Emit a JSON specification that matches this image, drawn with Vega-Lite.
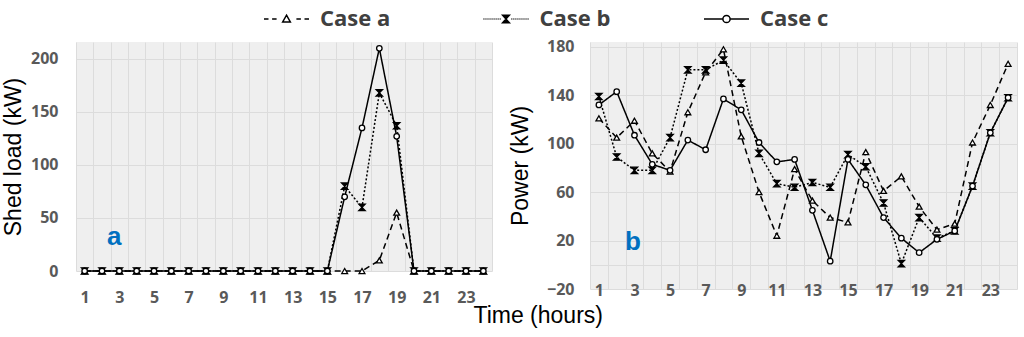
{
  "$schema": "https://vega.github.io/schema/vega-lite/v6.json",
  "background": "white",
  "padding": {"left": 2, "top": 3, "right": 5, "bottom": 5},
  "datasets": {
    "shed": [
      {"h":1,"c":"Case a","v":0},{"h":2,"c":"Case a","v":0},{"h":3,"c":"Case a","v":0},{"h":4,"c":"Case a","v":0},{"h":5,"c":"Case a","v":0},{"h":6,"c":"Case a","v":0},{"h":7,"c":"Case a","v":0},{"h":8,"c":"Case a","v":0},{"h":9,"c":"Case a","v":0},{"h":10,"c":"Case a","v":0},{"h":11,"c":"Case a","v":0},{"h":12,"c":"Case a","v":0},{"h":13,"c":"Case a","v":0},{"h":14,"c":"Case a","v":0},{"h":15,"c":"Case a","v":0},{"h":16,"c":"Case a","v":0},{"h":17,"c":"Case a","v":0},{"h":18,"c":"Case a","v":10},{"h":19,"c":"Case a","v":55},{"h":20,"c":"Case a","v":0},{"h":21,"c":"Case a","v":0},{"h":22,"c":"Case a","v":0},{"h":23,"c":"Case a","v":0},{"h":24,"c":"Case a","v":0},
      {"h":1,"c":"Case b","v":0},{"h":2,"c":"Case b","v":0},{"h":3,"c":"Case b","v":0},{"h":4,"c":"Case b","v":0},{"h":5,"c":"Case b","v":0},{"h":6,"c":"Case b","v":0},{"h":7,"c":"Case b","v":0},{"h":8,"c":"Case b","v":0},{"h":9,"c":"Case b","v":0},{"h":10,"c":"Case b","v":0},{"h":11,"c":"Case b","v":0},{"h":12,"c":"Case b","v":0},{"h":13,"c":"Case b","v":0},{"h":14,"c":"Case b","v":0},{"h":15,"c":"Case b","v":0},{"h":16,"c":"Case b","v":80},{"h":17,"c":"Case b","v":60},{"h":18,"c":"Case b","v":168},{"h":19,"c":"Case b","v":137},{"h":20,"c":"Case b","v":0},{"h":21,"c":"Case b","v":0},{"h":22,"c":"Case b","v":0},{"h":23,"c":"Case b","v":0},{"h":24,"c":"Case b","v":0},
      {"h":1,"c":"Case c","v":0},{"h":2,"c":"Case c","v":0},{"h":3,"c":"Case c","v":0},{"h":4,"c":"Case c","v":0},{"h":5,"c":"Case c","v":0},{"h":6,"c":"Case c","v":0},{"h":7,"c":"Case c","v":0},{"h":8,"c":"Case c","v":0},{"h":9,"c":"Case c","v":0},{"h":10,"c":"Case c","v":0},{"h":11,"c":"Case c","v":0},{"h":12,"c":"Case c","v":0},{"h":13,"c":"Case c","v":0},{"h":14,"c":"Case c","v":0},{"h":15,"c":"Case c","v":0},{"h":16,"c":"Case c","v":70},{"h":17,"c":"Case c","v":135},{"h":18,"c":"Case c","v":210},{"h":19,"c":"Case c","v":127},{"h":20,"c":"Case c","v":0},{"h":21,"c":"Case c","v":0},{"h":22,"c":"Case c","v":0},{"h":23,"c":"Case c","v":0},{"h":24,"c":"Case c","v":0}
    ],
    "power": [
      {"h":1,"c":"Case a","v":121},{"h":2,"c":"Case a","v":105},{"h":3,"c":"Case a","v":119},{"h":4,"c":"Case a","v":92},{"h":5,"c":"Case a","v":77},{"h":6,"c":"Case a","v":126},{"h":7,"c":"Case a","v":159},{"h":8,"c":"Case a","v":178},{"h":9,"c":"Case a","v":106},{"h":10,"c":"Case a","v":60},{"h":11,"c":"Case a","v":24},{"h":12,"c":"Case a","v":79},{"h":13,"c":"Case a","v":53},{"h":14,"c":"Case a","v":39},{"h":15,"c":"Case a","v":35},{"h":16,"c":"Case a","v":93},{"h":17,"c":"Case a","v":61},{"h":18,"c":"Case a","v":73},{"h":19,"c":"Case a","v":48},{"h":20,"c":"Case a","v":29},{"h":21,"c":"Case a","v":34},{"h":22,"c":"Case a","v":101},{"h":23,"c":"Case a","v":132},{"h":24,"c":"Case a","v":166},
      {"h":1,"c":"Case b","v":139},{"h":2,"c":"Case b","v":89},{"h":3,"c":"Case b","v":78},{"h":4,"c":"Case b","v":78},{"h":5,"c":"Case b","v":105},{"h":6,"c":"Case b","v":161},{"h":7,"c":"Case b","v":161},{"h":8,"c":"Case b","v":169},{"h":9,"c":"Case b","v":150},{"h":10,"c":"Case b","v":92},{"h":11,"c":"Case b","v":67},{"h":12,"c":"Case b","v":64},{"h":13,"c":"Case b","v":68},{"h":14,"c":"Case b","v":64},{"h":15,"c":"Case b","v":91},{"h":16,"c":"Case b","v":81},{"h":17,"c":"Case b","v":51},{"h":18,"c":"Case b","v":1},{"h":19,"c":"Case b","v":39},{"h":20,"c":"Case b","v":22},{"h":21,"c":"Case b","v":28},{"h":22,"c":"Case b","v":65},{"h":23,"c":"Case b","v":109},{"h":24,"c":"Case b","v":138},
      {"h":1,"c":"Case c","v":132},{"h":2,"c":"Case c","v":143},{"h":3,"c":"Case c","v":107},{"h":4,"c":"Case c","v":83},{"h":5,"c":"Case c","v":78},{"h":6,"c":"Case c","v":103},{"h":7,"c":"Case c","v":95},{"h":8,"c":"Case c","v":137},{"h":9,"c":"Case c","v":128},{"h":10,"c":"Case c","v":101},{"h":11,"c":"Case c","v":85},{"h":12,"c":"Case c","v":87},{"h":13,"c":"Case c","v":45},{"h":14,"c":"Case c","v":3},{"h":15,"c":"Case c","v":87},{"h":16,"c":"Case c","v":66},{"h":17,"c":"Case c","v":39},{"h":18,"c":"Case c","v":22},{"h":19,"c":"Case c","v":10},{"h":20,"c":"Case c","v":21},{"h":21,"c":"Case c","v":28},{"h":22,"c":"Case c","v":65},{"h":23,"c":"Case c","v":109},{"h":24,"c":"Case c","v":138}
    ],
    "labA": [{"h":2.7,"v":32.5,"t":"a"}],
    "labB": [{"h":2.91,"v":18.6,"t":"b"}]
  },
  "title": {"text": "Time (hours)", "orient": "bottom", "anchor": "middle", "font": "Liberation Sans", "fontSize": 23, "fontWeight": "normal", "color": "black", "offset": 0, "dx": 24},
  "spacing": 8,
  "hconcat": [
    {
      "width": 416,
      "height": 229,
      "encoding": {
        "x": {"field": "h", "type": "quantitative", "scale": {"domain": [0.5, 24.5], "nice": false, "zero": false},
              "axis": {"orient": "bottom", "values": [0.5,1.5,2.5,3.5,4.5,5.5,6.5,7.5,8.5,9.5,10.5,11.5,12.5,13.5,14.5,15.5,16.5,17.5,18.5,19.5,20.5,21.5,22.5,23.5,24.5], "labelExpr": "(datum.value < 24 && (datum.value + 0.5) % 2 == 1) ? format(datum.value + 0.5, 'd') : ''", "labelOffset": 8.66, "title": null, "labelBaseline": "middle", "labelPadding": 26, "grid": true, "labelFlush": false, "labelOverlap": false, "labelBound": false}},
        "y": {"field": "v", "type": "quantitative", "scale": {"domain": [0, 216], "nice": false},
              "axis": {"values": [0,50,100,150,200], "title": "Shed load (kW)", "labelPadding": 18, "titlePadding": 5, "grid": true, "labelOverlap": false}}
      },
      "layer": [
        {
          "data": {"name": "shed"},
          "mark": {"type": "line", "strokeWidth": 1.5, "color": "black"},
          "encoding": {
            "strokeDash": {"field": "c", "type": "nominal", "scale": {"range": [[6,4],[2,2],[1,0]]}, "legend": null}
          }
        },
        {
          "data": {"name": "shed"},
          "transform": [{"filter": "datum.c === 'Case a'"}],
          "mark": {"type": "point", "shape": "triangle-up", "filled": true, "fill": "white", "stroke": "black", "strokeWidth": 1.3, "opacity": 1, "size": 34}
        },
        {
          "data": {"name": "shed"},
          "transform": [{"filter": "datum.c === 'Case b'"}],
          "mark": {"type": "point", "shape": "M-1,-1H1L-1,1H1Z", "filled": true, "fill": "black", "stroke": "black", "strokeWidth": 1.3, "opacity": 1, "size": 40}
        },
        {
          "data": {"name": "shed"},
          "transform": [{"filter": "datum.c === 'Case c'"}],
          "mark": {"type": "point", "shape": "circle", "filled": true, "fill": "white", "stroke": "black", "strokeWidth": 1.3, "opacity": 1, "size": 30}
        },
        {
          "data": {"name": "shed"},
          "mark": {"type": "point", "filled": false, "color": "black", "opacity": 0},
          "encoding": {
            "shape": {"field": "c", "type": "nominal",
              "scale": {"domain": ["Case a", "Case b", "Case c"], "range": [
                "M-1.5,0H-1.2M-0.96,0H-0.66M0.66,0H0.96M1.2,0H1.5M0,-0.255L0.255,0.195L-0.255,0.195Z",
                "M-1.5,0h0.06M-1.365,0h0.06M-1.23,0h0.06M-1.095,0h0.06M-0.96,0h0.06M-0.825,0h0.06M-0.69,0h0.06M-0.555,0h0.06M-0.42,0h0.06M0.36,0h0.06M0.495,0h0.06M0.63,0h0.06M0.765,0h0.06M0.9,0h0.06M1.035,0h0.06M1.17,0h0.06M1.305,0h0.06M1.44,0h0.06M-0.225,-0.255H0.225L-0.225,0.255H0.225ZM-0.15,-0.165H0.15M-0.075,-0.075H0.075M-0.15,0.165H0.15M-0.075,0.075H0.075",
                "M-1.5,0H-0.24M0.24,0H1.5M0.24,0A0.24,0.24 0 1,1 -0.24,0A0.24,0.24 0 1,1 0.24,0Z"
              ]},
              "legend": {"title": null, "orient": "none", "legendX": 194.5, "legendY": -39, "direction": "horizontal"}
            }
          }
        },
        {
          "data": {"name": "labA"},
          "mark": {"type": "text", "font": "Liberation Sans", "fontWeight": "bold", "fontSize": 26, "color": "#0070C0", "baseline": "middle", "align": "center"},
          "encoding": {
            "text": {"field": "t"}
          }
        }
      ]
    },
    {
      "width": 427,
      "height": 247,
      "encoding": {
        "x": {"field": "h", "type": "quantitative", "scale": {"domain": [0.5, 24.5], "nice": false, "zero": false},
              "axis": {"orient": "bottom", "values": [0.5,1.5,2.5,3.5,4.5,5.5,6.5,7.5,8.5,9.5,10.5,11.5,12.5,13.5,14.5,15.5,16.5,17.5,18.5,19.5,20.5,21.5,22.5,23.5,24.5], "labelExpr": "(datum.value < 24 && (datum.value + 0.5) % 2 == 1) ? format(datum.value + 0.5, 'd') : ''", "labelOffset": 8.89, "title": null, "labelBaseline": "middle", "labelPadding": 1, "grid": true, "labelFlush": false, "labelOverlap": false, "labelBound": false}},
        "y": {"field": "v", "type": "quantitative", "scale": {"domain": [-20, 184], "nice": false, "zero": false},
              "axis": {"values": [-20,0,20,60,100,140,180], "labelExpr": "datum.value == 0 ? '' : datum.label", "title": "Power (kW)", "labelPadding": 16, "titlePadding": 14, "grid": true, "labelOverlap": false}}
      },
      "layer": [
        {
          "data": {"name": "power"},
          "mark": {"type": "line", "strokeWidth": 1.5, "color": "black"},
          "encoding": {
            "strokeDash": {"field": "c", "type": "nominal", "scale": {"range": [[6,4],[2,2],[1,0]]}, "legend": null}
          }
        },
        {
          "data": {"name": "power"},
          "transform": [{"filter": "datum.c === 'Case a'"}],
          "mark": {"type": "point", "shape": "triangle-up", "filled": true, "fill": "white", "stroke": "black", "strokeWidth": 1.3, "opacity": 1, "size": 34}
        },
        {
          "data": {"name": "power"},
          "transform": [{"filter": "datum.c === 'Case b'"}],
          "mark": {"type": "point", "shape": "M-1,-1H1L-1,1H1Z", "filled": true, "fill": "black", "stroke": "black", "strokeWidth": 1.3, "opacity": 1, "size": 40}
        },
        {
          "data": {"name": "power"},
          "transform": [{"filter": "datum.c === 'Case c'"}],
          "mark": {"type": "point", "shape": "circle", "filled": true, "fill": "white", "stroke": "black", "strokeWidth": 1.3, "opacity": 1, "size": 30}
        },
        {
          "data": {"name": "labB"},
          "mark": {"type": "text", "font": "Liberation Sans", "fontWeight": "bold", "fontSize": 26, "color": "#0070C0", "baseline": "middle", "align": "center"},
          "encoding": {
            "text": {"field": "t"}
          }
        }
      ]
    }
  ],
  "config": {
    "view": {"stroke": null, "fill": "#efefef"},
    "axis": {"labelFont": "Open Sans", "labelFontWeight": "bold", "labelFontSize": 16, "labelColor": "#595959", "titleFont": "Liberation Sans", "titleFontWeight": "normal", "titleFontSize": 23, "titleColor": "black", "domain": false, "ticks": false, "tickSize": 0, "gridColor": "#dcdcdc", "gridWidth": 1, "labelOverlap": false},
    "legend": {"labelFont": "Open Sans", "labelFontWeight": "bold", "labelFontSize": 22, "labelColor": "#404040", "symbolSize": 900, "symbolStrokeWidth": 1.5, "symbolOpacity": 1, "symbolStrokeColor": "black", "labelOffset": 17.5, "columnPadding": 89.5, "padding": 0}
  }
}
